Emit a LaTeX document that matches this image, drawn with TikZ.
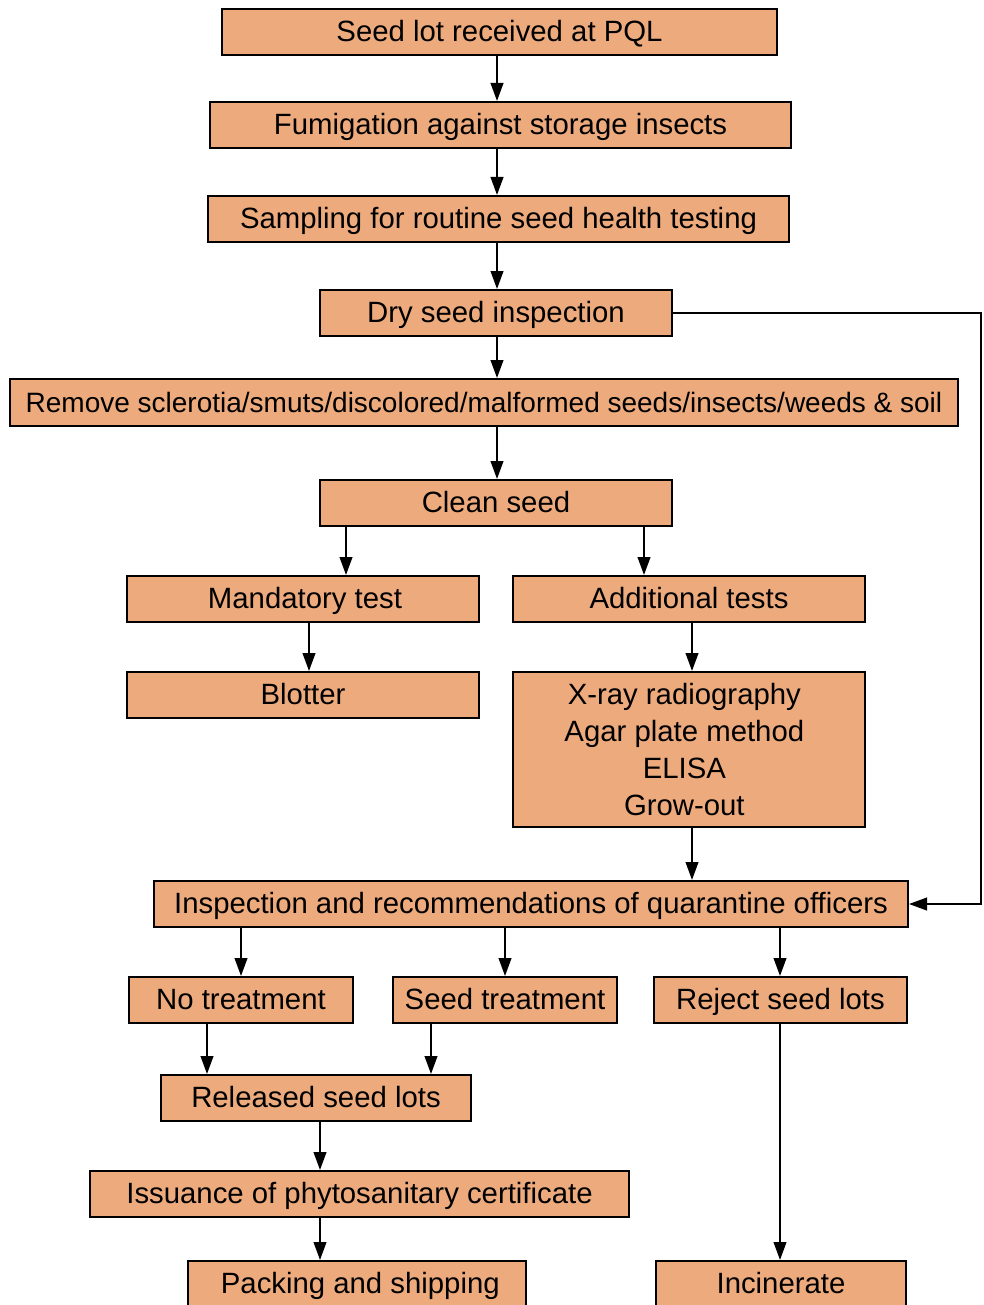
\documentclass[tikz,border=0pt]{standalone}
\usepackage{fontspec}
\setmainfont{Liberation Sans}
\usetikzlibrary{arrows.meta}
\definecolor{boxfill}{RGB}{237,170,125}
\newcommand\bx[7][]{\node[box, #1, minimum width={(#5-#3)*0.75pt}, minimum height={(#6-#4)*0.75pt}] (#2) at ({(#3+#5)/2},{(#4+#6)/2}) {#7};}
\newcommand\rs{\rule{7pt}{0pt}}
\begin{document}
\begin{tikzpicture}[x=0.75pt,y=-0.75pt,
  box/.style={draw=black, fill=boxfill, line width=1.5pt, inner sep=0pt, align=center,
    font=\fontsize{22pt}{27.75pt}\selectfont},
  one/.style={text height=17pt, text depth=2.2pt},
  arr/.style={line width=1.5pt, -{Triangle[length=13.5pt,width=9.5pt]}}]
\useasboundingbox (0,0) rectangle (983,1305);
\bx[one]{n1}{222}{9}{777}{55}{Seed lot received at PQL}
\bx[one]{n2}{210}{102}{791}{148}{Fumigation against storage insects}
\bx[one]{n3}{208}{196}{789}{242}{Sampling for routine seed health testing}
\bx[one]{n4}{320}{290}{672}{336}{Dry seed inspection}
\bx[one, font=\fontsize{21pt}{27.75pt}\selectfont]{n5}{10}{379}{958}{426}{Remove sclerotia/smuts/discolored/malformed seeds/insects/weeds \& soil}
\bx[one]{n6}{320}{480}{672}{526}{Clean seed}
\bx[one]{n7}{127}{576}{479}{622}{\hspace*{3pt}Mandatory test}
\bx[one]{n8}{513}{576}{865}{622}{Additional tests}
\bx[one]{n9}{127}{672}{479}{718}{Blotter}
\bx{n10}{513}{672}{865}{827}{X-ray radiography\rs\\Agar plate method\rs\\ELISA\rs\\Grow-out\rs}
\bx[one]{n11}{154}{881}{908}{927}{Inspection and recommendations of quarantine officers}
\bx[one]{n12}{129}{977}{353}{1023}{No treatment}
\bx[one]{n13}{393}{977}{617}{1023}{Seed treatment}
\bx[one]{n14}{654}{977}{907}{1023}{Reject seed lots}
\bx[one]{n15}{161}{1075}{471}{1121}{Released seed lots}
\bx[one]{n16}{90}{1171}{629}{1217}{Issuance of phytosanitary certificate}
\bx[one]{n17}{188}{1261}{526}{1307}{\hspace*{5pt}Packing and shipping}
\bx[one]{n18}{656}{1261}{906}{1307}{Incinerate}
\coordinate (c497) at (497,0);
\coordinate (c346) at (346,0);
\coordinate (c644) at (644,0);
\coordinate (c309) at (309,0);
\coordinate (c692) at (692,0);
\coordinate (c241) at (241,0);
\coordinate (c505) at (505,0);
\coordinate (c780) at (780,0);
\coordinate (c207) at (207,0);
\coordinate (c431) at (431,0);
\coordinate (c320) at (320,0);
\coordinate (cR) at (981,0);
\draw[arr] (n1.south -| c497) -- (n2.north -| c497);
\draw[arr] (n2.south -| c497) -- (n3.north -| c497);
\draw[arr] (n3.south -| c497) -- (n4.north -| c497);
\draw[arr] (n4.south -| c497) -- (n5.north -| c497);
\draw[arr] (n5.south -| c497) -- (n6.north -| c497);
\draw[arr] (n6.south -| c346) -- (n7.north -| c346);
\draw[arr] (n6.south -| c644) -- (n8.north -| c644);
\draw[arr] (n7.south -| c309) -- (n9.north -| c309);
\draw[arr] (n8.south -| c692) -- (n10.north -| c692);
\draw[arr] (n10.south -| c692) -- (n11.north -| c692);
\draw[arr] (n4.east) -- (n4.east -| cR) |- (n11.east);
\draw[arr] (n11.south -| c241) -- (n12.north -| c241);
\draw[arr] (n11.south -| c505) -- (n13.north -| c505);
\draw[arr] (n11.south -| c780) -- (n14.north -| c780);
\draw[arr] (n12.south -| c207) -- (n15.north -| c207);
\draw[arr] (n13.south -| c431) -- (n15.north -| c431);
\draw[arr] (n14.south -| c780) -- (n18.north -| c780);
\draw[arr] (n15.south -| c320) -- (n16.north -| c320);
\draw[arr] (n16.south -| c320) -- (n17.north -| c320);
\end{tikzpicture}
\end{document}
